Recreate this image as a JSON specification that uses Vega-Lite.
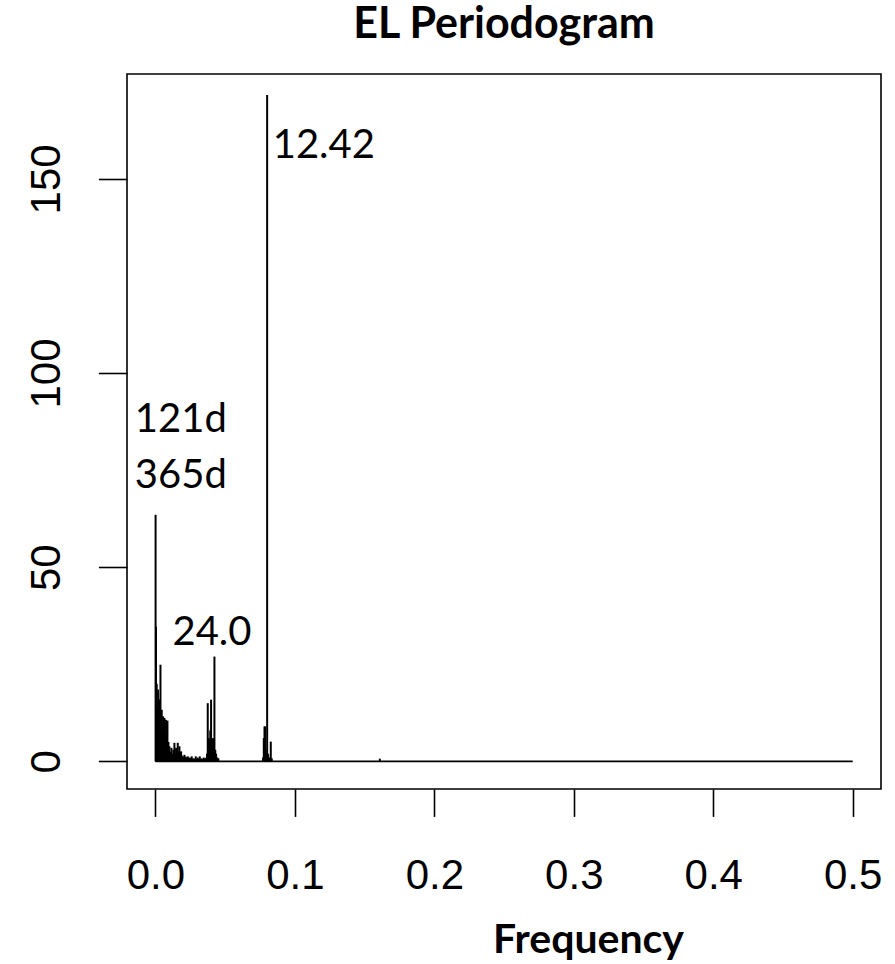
{
  "$schema": "https://vega.github.io/schema/vega-lite/v6.json",
  "autosize": "none",
  "width": 754,
  "height": 715,
  "padding": {"left": 127, "top": 74, "right": 14, "bottom": 175},
  "background": "white",
  "title": {
    "text": "EL Periodogram",
    "font": "Lato",
    "fontSize": 43,
    "fontWeight": "bold",
    "color": "black",
    "anchor": "middle",
    "frame": "group",
    "baseline": "alphabetic",
    "offset": -7
  },
  "config": {
    "view": {"stroke": "black", "strokeWidth": 1.6},
    "axis": {
      "grid": false,
      "domain": false,
      "tickColor": "black",
      "tickWidth": 1.6,
      "labelFont": "Liberation Sans",
      "labelFontSize": 42,
      "labelColor": "black"
    }
  },
  "datasets": {
    "spikes": [
      {"f": 0.0001, "p": 63.5},
      {"f": 0.0004, "p": 34.7},
      {"f": 0.0009, "p": 20},
      {"f": 0.0014, "p": 14},
      {"f": 0.0019, "p": 18.5},
      {"f": 0.0024, "p": 12},
      {"f": 0.0029, "p": 16},
      {"f": 0.0036, "p": 24.9},
      {"f": 0.0040, "p": 9},
      {"f": 0.0045, "p": 13.3},
      {"f": 0.0050, "p": 8},
      {"f": 0.0055, "p": 11.6},
      {"f": 0.0060, "p": 7},
      {"f": 0.0065, "p": 11.2},
      {"f": 0.0069, "p": 6},
      {"f": 0.0076, "p": 10.7},
      {"f": 0.0081, "p": 7},
      {"f": 0.0086, "p": 10.5},
      {"f": 0.0093, "p": 5},
      {"f": 0.0100, "p": 3.9},
      {"f": 0.0108, "p": 2.5},
      {"f": 0.0115, "p": 3.5},
      {"f": 0.0122, "p": 2},
      {"f": 0.0129, "p": 3},
      {"f": 0.0136, "p": 4.8},
      {"f": 0.0142, "p": 2},
      {"f": 0.0148, "p": 3.5},
      {"f": 0.0153, "p": 2},
      {"f": 0.0160, "p": 4.8},
      {"f": 0.0167, "p": 2.5},
      {"f": 0.0172, "p": 3.9},
      {"f": 0.0178, "p": 2},
      {"f": 0.0184, "p": 2.6},
      {"f": 0.0192, "p": 1.5},
      {"f": 0.0200, "p": 1.2},
      {"f": 0.0208, "p": 1.7},
      {"f": 0.0217, "p": 1.2},
      {"f": 0.0225, "p": 1.0},
      {"f": 0.0232, "p": 1.3},
      {"f": 0.0239, "p": 0.9},
      {"f": 0.0246, "p": 1.0},
      {"f": 0.0253, "p": 0.8},
      {"f": 0.0260, "p": 1.3},
      {"f": 0.0267, "p": 0.7},
      {"f": 0.0274, "p": 0.8},
      {"f": 0.0282, "p": 0.6},
      {"f": 0.0289, "p": 1.3},
      {"f": 0.0296, "p": 0.7},
      {"f": 0.0303, "p": 1.0},
      {"f": 0.0310, "p": 0.6},
      {"f": 0.0318, "p": 1.3},
      {"f": 0.0325, "p": 0.6},
      {"f": 0.0332, "p": 0.8},
      {"f": 0.0340, "p": 0.6},
      {"f": 0.0347, "p": 1.0},
      {"f": 0.0354, "p": 0.6},
      {"f": 0.0361, "p": 0.8},
      {"f": 0.0366, "p": 1.0},
      {"f": 0.0370, "p": 2},
      {"f": 0.0375, "p": 15},
      {"f": 0.0380, "p": 6},
      {"f": 0.0384, "p": 4},
      {"f": 0.0387, "p": 5.6},
      {"f": 0.0393, "p": 8},
      {"f": 0.0399, "p": 15.9},
      {"f": 0.0406, "p": 4},
      {"f": 0.0413, "p": 6},
      {"f": 0.0418, "p": 3},
      {"f": 0.0423, "p": 27.0},
      {"f": 0.0429, "p": 3},
      {"f": 0.0435, "p": 2},
      {"f": 0.0443, "p": 1},
      {"f": 0.0451, "p": 0.8},
      {"f": 0.0771, "p": 1},
      {"f": 0.0777, "p": 6},
      {"f": 0.0782, "p": 9},
      {"f": 0.0786, "p": 9},
      {"f": 0.0791, "p": 3},
      {"f": 0.0796, "p": 2},
      {"f": 0.0801, "p": 171.6},
      {"f": 0.0808, "p": 2},
      {"f": 0.0813, "p": 1},
      {"f": 0.0820, "p": 1},
      {"f": 0.0827, "p": 5.1},
      {"f": 0.0834, "p": 0.8},
      {"f": 0.1609, "p": 0.7}
    ],
    "baseline": [
      {"f": 0, "f2": 0.5, "p": 0}
    ],
    "labels": [
      {"f": 0.0841, "p": 155.4, "label": "12.42"},
      {"f": -0.0148, "p": 84.9, "label": "121d"},
      {"f": -0.0148, "p": 70.4, "label": "365d"},
      {"f": 0.0122, "p": 30.0, "label": "24.0"}
    ]
  },
  "layer": [
    {
      "data": {"name": "spikes"},
      "mark": {"type": "rule", "color": "black", "strokeWidth": 2},
      "encoding": {
        "x": {
          "field": "f",
          "type": "quantitative",
          "scale": {"domain": [-0.0204, 0.5203], "nice": false, "zero": false},
          "axis": {
            "values": [0, 0.1, 0.2, 0.3, 0.4, 0.5],
            "format": ".1f",
            "tickSize": 27.4,
            "labelPadding": 72,
            "labelBaseline": "alphabetic",
            "labelAlign": "center",
            "labelFlush": false,
            "title": "Frequency",
            "titleFont": "Lato",
            "titleFontSize": 41,
            "titleFontWeight": "bold",
            "titleColor": "black",
            "titleBaseline": "alphabetic",
            "titleAlign": "center",
            "titleAnchor": "start",
            "titleX": 461,
            "titleY": 163
          }
        },
        "y": {
          "field": "p",
          "type": "quantitative",
          "scale": {"domain": [-7.1, 177.0], "nice": false, "zero": false},
          "axis": {
            "values": [0, 50, 100, 150],
            "tickSize": 28.6,
            "labelAngle": -90,
            "labelAlign": "center",
            "labelBaseline": "alphabetic",
            "labelPadding": 38.7,
            "labelFlush": false,
            "title": null
          }
        },
        "y2": {"datum": 0}
      }
    },
    {
      "data": {"name": "baseline"},
      "mark": {"type": "rule", "color": "black", "strokeWidth": 1.8},
      "encoding": {
        "x": {"field": "f", "type": "quantitative"},
        "x2": {"field": "f2"},
        "y": {"field": "p", "type": "quantitative"}
      }
    },
    {
      "data": {"name": "labels"},
      "mark": {"type": "text", "font": "Lato", "fontSize": 40, "color": "black", "align": "left", "baseline": "alphabetic"},
      "encoding": {
        "x": {"field": "f", "type": "quantitative"},
        "y": {"field": "p", "type": "quantitative"},
        "text": {"field": "label"}
      }
    }
  ]
}
